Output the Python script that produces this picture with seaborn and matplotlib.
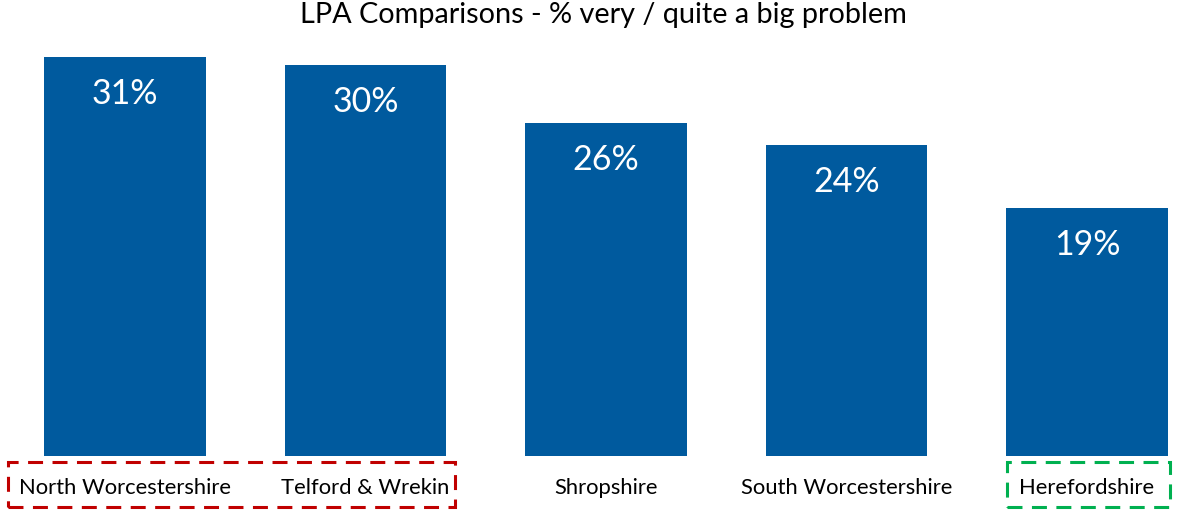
import matplotlib
matplotlib.use("Agg")
import matplotlib.pyplot as plt
import matplotlib.transforms as mtransforms
from matplotlib.patches import Rectangle
import seaborn as sns

# LPA survey results: share saying it is a very / quite a big problem
areas = ["North Worcestershire", "Telford & Wrekin", "Shropshire",
         "South Worcestershire", "Herefordshire"]
values = [31.0, 30.4, 25.9, 24.2, 19.3]
title = "LPA Comparisons - % very / quite a big problem"

# Highlight groups drawn as dashed frames around the category labels
red_group = ["North Worcestershire", "Telford & Wrekin"]
green_group = ["Herefordshire"]

BAR_COLOR = "#005A9E"
RED = "#C00000"
GREEN = "#00B050"

sns.set_theme(style="white")
plt.rcParams["font.family"] = ["Lato", "DejaVu Sans"]

W, H, DPI = 11.88, 5.14, 100
fig = plt.figure(figsize=(W, H), dpi=DPI)

ymax = 35.0
px_per_unit = 399 / 31.0
ax_bottom = 1 - 456 / 514
ax_height = (px_per_unit * ymax) / 514
ax = fig.add_axes([0.0, ax_bottom, 1.0, ax_height])

sns.barplot(x=areas, y=values, color=BAR_COLOR, saturation=1, width=0.67,
            linewidth=0, ax=ax)

step = 240.5
ax.set_xlim(-125 / step, (1188 - 125) / step)
ax.set_ylim(0, ymax)
ax.set_xlabel("")
ax.set_ylabel("")
ax.set_yticks([])
for s in ax.spines.values():
    s.set_visible(False)
ax.tick_params(axis="x", length=0, pad=15.5, labelsize=15.8, labelcolor="#000000")

# Value labels inside the top of each bar
for i, v in enumerate(values):
    ax.annotate(f"{v:.0f}%", xy=(i, v), xytext=(0, -37), textcoords="offset pixels",
                ha="center", va="center", color="white", fontsize=24.5)

fig.text(0.508, 1 - 15 / 514, title, ha="center", va="center", fontsize=20.8, color="#000000")

# Dashed frames around grouped category labels
tr = mtransforms.blended_transform_factory(ax.transData, fig.transFigure)
y0, y1 = 1 - 507 / 514, 1 - 462 / 514

def frame(group, color, left_pad, right_pad):
    idx = [areas.index(a) for a in group]
    x0 = min(idx) - left_pad
    x1 = max(idx) + right_pad
    r = Rectangle((x0, y0), x1 - x0, y1 - y0, transform=tr, fill=False,
                  edgecolor=color, linewidth=2.2, linestyle=(0, (4.9, 3.1)), clip_on=False)
    fig.add_artist(r)

frame(red_group, RED, 0.486, 0.372)
frame(green_group, GREEN, 0.333, 0.345)

fig.savefig("out.png", dpi=DPI)
